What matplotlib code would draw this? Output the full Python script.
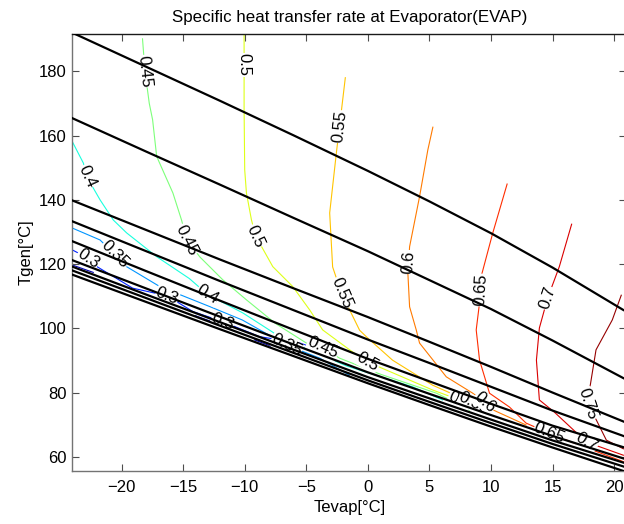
import matplotlib
matplotlib.use("Agg")
import matplotlib.pyplot as plt
import numpy as np

plt.rcParams['font.family'] = ['Liberation Sans', 'DejaVu Sans']

# Iso-lines of specific heat transfer rate, traced as (Tevap, Tgen) paths
c025_paths = [
    ([-24.0, -22.3], [119.7, 117.4]),
    ([-14.0, -12.4], [103.9, 101.7]),
    ([-9.2, -7.9], [96.4, 94.5]),
]
c030_x = [-24.0, -22.7, -22.0, -19.1, -16.3, -14.2, -11.8, -8.8, -5.5, -3.9]
c030_y = [124.4, 121.8, 119.2, 112.5, 110.1, 105.2, 102.1, 97.4, 95.4, 93.2]
c035_x = [-24.0, -21.75, -20.54, -19.6, -16.9, -12.8, -10.2, -6.6, -3.9, -1.5]
c035_y = [131.2, 127.5, 122.9, 119.2, 113.0, 106.7, 102.6, 94.8, 90.7, 85.4]
c040_x = [-24.0, -23.1, -22.83, -21.75, -20.67, -19.59, -17.15, -14.5, -13.0,
          -10.16, -7.16, -1.75, 3.63, 6.07]
c040_y = [158.1, 151.4, 147.2, 140.0, 133.7, 129.7, 122.3, 115.5, 110.5,
          104.8, 97.4, 88.3, 81.8, 77.7]
c045_x = [-18.3, -18.1, -17.75, -17.48, -17.15, -15.83, -15.13, -14.7, -13.64,
          -11.78, -9.84, -7.5, -4.99, -3.67, -2.29, 0.96, 5.58, 7.2, 8.25]
c045_y = [190.1, 180.0, 170.0, 164.9, 153.5, 142.1, 133.7, 127.5, 122.2,
          115.1, 108.8, 101.5, 95.4, 93.9, 90.7, 85.8, 79.8, 76.7, 74.5]
c050_x = [-10.05, -10.05, -10.05, -10.0, -9.86, -9.45, -9.11, -7.72, -6.1,
          -4.72, -3.67, -1.48, 0.0, 0.96, 5.26, 7.45, 8.2]
c050_y = [191.6, 182.0, 168.0, 149.3, 142.1, 133.7, 128.7, 119.2, 113.0,
          105.7, 99.5, 93.3, 89.5, 87.9, 80.8, 77.7, 76.0]
c055_x = [-1.83, -2.3, -2.56, -3.1, -2.86, -2.15, -0.67, -0.1, 2.0, 5.26, 7.2,
          8.6, 9.8]
c055_y = [178.0, 162.8, 154.5, 135.9, 119.1, 111.0, 99.4, 97.3, 90.1, 82.3,
          79.0, 76.6, 74.0]
c060_x = [5.28, 4.87, 4.2, 3.39, 3.32, 3.25, 3.39, 3.93, 4.2, 6.37, 8.52, 9.5,
          9.88, 12.85]
c060_y = [162.6, 155.5, 141.0, 125.4, 120.7, 117.2, 106.7, 99.5, 95.4, 84.9,
          79.8, 77.0, 75.1, 69.9]
c065_x = [11.31, 10.14, 9.2, 9.15, 9.07, 8.8, 9.07, 9.88, 11.5, 12.85, 14.75,
          17.2, 20.75]
c065_y = [144.9, 129.6, 116.1, 111.9, 107.9, 99.5, 90.1, 79.8, 75.5, 70.5,
          67.3, 63.6, 58.5]
c070_x = [16.55, 15.55, 14.6, 13.93, 13.69, 13.93, 15.15, 17.75, 20.75]
c070_y = [132.4, 119.2, 109.4, 100.1, 90.1, 77.7, 73.9, 64.6, 60.5]
c075_x = [20.58, 19.85, 18.53, 18.0, 17.9, 19.37, 20.75]
c075_y = [110.3, 102.6, 93.3, 80.8, 76.5, 65.2, 62.5]

# level, paths, label vertices, position in the jet colormap
contours = [
    (0.25, c025_paths, [], 0.05),
    (0.30, [(c030_x, c030_y)], [1, 4, 6], 0.16),
    (0.35, [(c035_x, c035_y)], [2, 7], 0.27),
    (0.40, [(c040_x, c040_y)], [2, 8], 0.38),
    (0.45, [(c045_x, c045_y)], [1, 7, 13], 0.50),
    (0.50, [(c050_x, c050_y)], [1, 6, 12, 15], 0.62),
    (0.55, [(c055_x, c055_y)], [1, 5, 11], 0.70),
    (0.60, [(c060_x, c060_y)], [4, 11], 0.78),
    (0.65, [(c065_x, c065_y)], [3, 10], 0.86),
    (0.70, [(c070_x, c070_y)], [2, 7], 0.92),
    (0.75, [(c075_x, c075_y)], [4], 0.98),
]

# Boundary curves (Tgen vs Tevap)
bound_x = [-24.0, -18.0, -12.0, -6.0, 0.0, 5.0, 10.0, 15.0, 20.75]
bound_tgen = [
    [192.0, 181.4, 170.8, 160.0, 149.0, 139.5, 129.6, 118.9, 105.7],
    [165.4, 155.0, 144.7, 134.3, 124.0, 115.0, 106.0, 96.2, 84.5],
    [139.8, 130.6, 121.4, 112.4, 103.5, 95.8, 88.0, 80.0, 71.0],
    [133.3, 124.0, 114.7, 105.6, 96.5, 89.2, 81.8, 74.4, 66.5],
    [127.1, 117.8, 108.6, 99.5, 90.5, 83.5, 76.5, 69.7, 63.0],
    [121.2, 112.4, 103.6, 94.9, 86.3, 79.6, 73.0, 66.5, 59.5],
    [119.2, 110.5, 101.9, 93.3, 84.8, 78.2, 71.6, 65.1, 58.2],
    [118.0, 109.4, 100.8, 92.3, 83.8, 77.1, 70.5, 64.0, 57.0],
    [116.7, 108.2, 99.7, 91.3, 82.9, 76.1, 69.4, 62.9, 55.6],
]

fig = plt.figure(figsize=(6.24, 5.24), dpi=100)
ax = fig.add_axes([0.1159, 0.1006, 0.888, 0.8345])
ax.set_xlim(-24, 21)
ax.set_ylim(55.5, 191.6)

cmap = plt.get_cmap('jet')

for level, paths, _, cpos in contours:
    for px, py in paths:
        ax.plot(px, py, color=cmap(cpos), lw=0.8, zorder=1)

for tg in bound_tgen:
    ax.plot(bound_x, tg, color='black', lw=1.6, zorder=3)

# inline labels, rotated along the path
fig.canvas.draw()
for level, paths, idxs, _ in contours:
    if not idxs:
        continue
    px, py = paths[0]
    for i in idxs:
        a = ax.transData.transform((px[i - 1], py[i - 1]))
        b = ax.transData.transform((px[i + 1], py[i + 1]))
        ang = np.degrees(np.arctan2(b[1] - a[1], b[0] - a[0]))
        if ang > 90:
            ang -= 180
        elif ang < -90:
            ang += 180
        ax.text(px[i], py[i], f'{level:g}', fontsize=12, rotation=ang,
                rotation_mode='anchor', ha='center', va='center', zorder=2,
                bbox=dict(fc='white', ec='none', pad=0.3))

ax.set_xticks(np.arange(-20, 21, 5))
ax.set_yticks(np.arange(60, 181, 20))
ax.tick_params(direction='in', top=True, right=True, length=5,
               labelsize=12, pad=6, color='0.3')
ax.tick_params(axis='y', pad=4)
for s in ax.spines.values():
    s.set_color('0.45')
    s.set_linewidth(1.0)
ax.spines['top'].set_color('0.1')
ax.set_xlabel('Tevap[°C]', fontsize=12, labelpad=4)
ax.set_ylabel('Tgen[°C]', fontsize=12, labelpad=4)
ax.set_title('Specific heat transfer rate at Evaporator(EVAP)', fontsize=12.2,
             pad=9)

fig.savefig('out.png', dpi=100)
